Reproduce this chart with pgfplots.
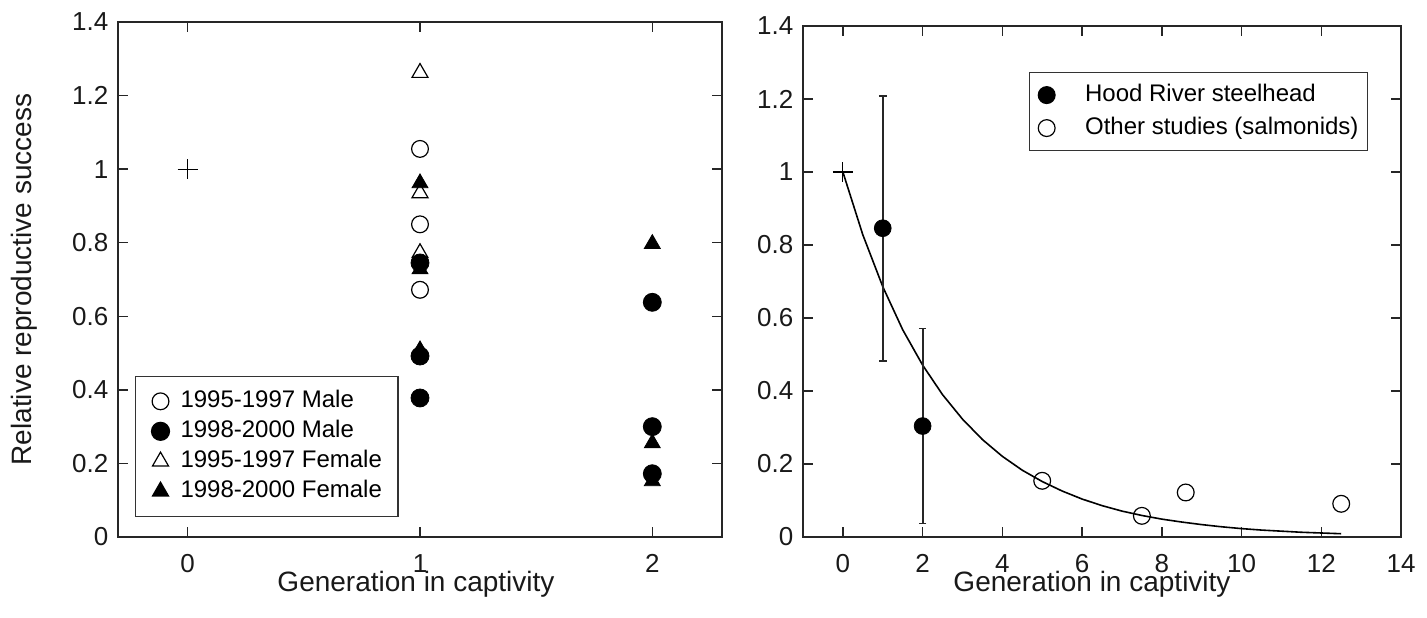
\documentclass[border=0pt]{standalone}
\usepackage{fontspec}
\setmainfont{Liberation Sans}
\usepackage{pgfplots}
\pgfplotsset{compat=1.18}
\usetikzlibrary{plotmarks}

\pgfplotsset{
  rrs/.style={
    scale only axis,
    axis line style={line width=0.75pt, black!85},
    major tick style={line width=0.75pt, black!85},
    tick align=inside,
    major tick length=5pt,
    ymin=0, ymax=1.4,
    ytick={0,0.2,0.4,0.6,0.8,1,1.2,1.4},
    yticklabels={0,0.2,0.4,0.6,0.8,1,1.2,1.4},
    tick label style={font=\fontsize{13}{16}\selectfont, black!90},
    /pgf/number format/assume math mode=true,
    label style={font=\fontsize{14}{17}\selectfont, black!90, inner sep=0pt},
    xlabel style={at={(axis description cs:0.5,0)}, anchor=base},
    xticklabel style={inner ysep=0pt, yshift=-8.5pt},
    yticklabel style={xshift=-1.3pt},
    legend cell align=left,
    legend image code/.code={\draw[mark repeat=1,mark phase=1,#1] plot coordinates {(0pt,0pt)};},
  },
  mo/.style={only marks, mark=o, mark size=4.2pt, line width=0.6pt, black},
  mf/.style={only marks, mark=*, mark size=4.5pt, black, fill=black},
  to/.style={only marks, mark=triangle, mark size=4.6pt, line width=0.6pt, black},
  tf/.style={only marks, mark=triangle*, mark size=4.6pt, black, fill=black},
}

\begin{document}
\begin{tikzpicture}
\useasboundingbox (-59pt,-40pt) rectangle (654.5pt,268.5pt);

% left panel
\begin{axis}[rrs,
    at={(0pt,0pt)}, anchor=south west,
    width=302pt, height=257.5pt,
    xmin=-0.3, xmax=2.3, xtick={0,1,2},
    xlabel={Generation in captivity},
    xlabel style={xshift=-2pt, yshift=-27pt},
    ylabel={Relative reproductive success},
    ylabel style={at={(axis description cs:0,0.5)}, anchor=center, yshift=47pt},
    legend style={at={(0.028,0.039)}, anchor=south west, draw=black!80, line width=0.6pt,
      font=\fontsize{12}{14}\selectfont, inner xsep=8pt, inner ysep=5pt, row sep=0pt,
      column sep=5.5pt,
      nodes={inner xsep=0pt, inner ysep=1.5pt, text height=9pt, text depth=3pt}},
]
\addplot[only marks, mark=+, mark size=5pt, line width=0.6pt, black, forget plot] coordinates {(0,1)};
\addplot[mo] coordinates {(1,1.055) (1,0.85) (1,0.672)};
\addplot[mf] coordinates {(1,0.745) (1,0.492) (1,0.378) (2,0.638) (2,0.300) (2,0.172)};
\addplot[to] coordinates {(1,1.262) (1,0.935) (1,0.772)};
\addplot[tf] coordinates {(1,0.962) (1,0.728) (1,0.508) (2,0.797) (2,0.255) (2,0.152)};
\legend{1995-1997 Male, 1998-2000 Male, 1995-1997 Female, 1998-2000 Female}
\end{axis}

% right panel
\begin{axis}[rrs,
    at={(342.5pt,0pt)}, anchor=south west,
    width=299pt, height=255.5pt,
    xmin=-1, xmax=14, xtick={0,2,4,6,8,10,12,14},
    xlabel={Generation in captivity},
    xlabel style={xshift=-5pt, yshift=-27pt},
    legend style={at={(0.945,0.91)}, anchor=north east, draw=black!80, line width=0.6pt,
      font=\fontsize{12}{14}\selectfont, inner xsep=4.5pt, inner ysep=3pt, row sep=0pt,
      column sep=15pt,
      nodes={inner xsep=0pt, inner ysep=1.5pt, text height=10pt, text depth=3.5pt}},
]
\addplot[black, line width=0.8pt, forget plot] coordinates {
  (0,1) (0.5,0.828) (1,0.686) (1.5,0.568) (2,0.471) (2.5,0.390) (3,0.323) (3.5,0.267)
  (4,0.221) (4.5,0.183) (5,0.152) (5.5,0.126) (6,0.104) (6.5,0.086) (7,0.071) (7.5,0.059)
  (8,0.049) (8.5,0.041) (9,0.034) (9.5,0.028) (10,0.023) (10.5,0.019) (11,0.016)
  (11.5,0.013) (12,0.011) (12.5,0.009)};
\addplot[only marks, mark=+, mark size=5pt, line width=0.6pt, black, forget plot] coordinates {(0,1)};
\addplot[mf, mark size=4.2pt,
  error bars/.cd, y dir=both, y explicit,
  error bar style={line width=0.9pt, black!85},
  error mark options={rotate=90, mark size=1.9pt, line width=0.9pt, black!85}]
  coordinates {(1,0.846) +- (0,0.363) (2,0.304) +- (0,0.267)};
\addplot[mo] coordinates {(5,0.154) (7.5,0.058) (8.6,0.122) (12.5,0.091)};
\legend{Hood River steelhead, Other studies (salmonids)}
\end{axis}
\end{tikzpicture}
\end{document}
